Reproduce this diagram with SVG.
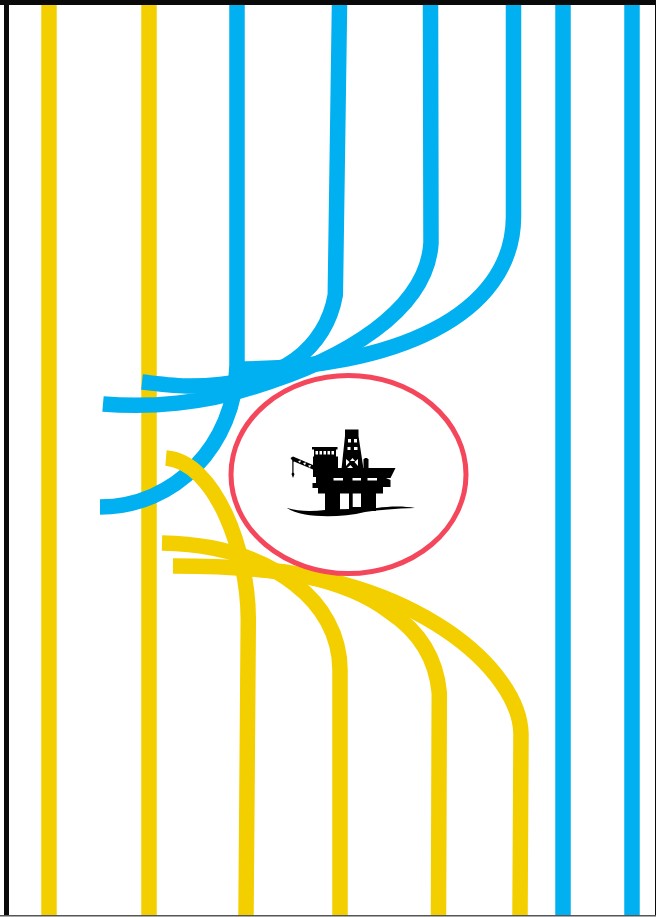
<svg xmlns="http://www.w3.org/2000/svg" width="656" height="917" viewBox="0 0 656 917">
<style>
.b{fill:none;stroke:#00B0F0;stroke-width:15.5}
.y{fill:none;stroke:#F4CF00;stroke-width:15.5}
.k{fill:#0a0a0a}
.i{fill:#000}
.w{fill:#fff}
</style>
<defs><filter id="soft" x="-5%" y="-5%" width="110%" height="110%"><feGaussianBlur stdDeviation="0.45"/></filter></defs>
<rect width="656" height="917" fill="#fff"/>
<g id="connectors">
<path class="y" d="M49,5V915"/>
<path class="y" d="M149,5V915"/>
<path class="b" d="M563,5V915"/>
<path class="b" d="M632,5V915"/>
<path class="b" d="M237,5V365C235,445 175,507 100,507"/>
<path class="b" d="M339.500,5L335.300,295C330,325 315,345 295,360C270,378 230,386 190,386C175,386 160,384 142,382"/>
<path class="b" d="M430.500,5L431,243C427,310 345,360 250,388C205,403 150,408 103,404"/>
<path class="b" d="M513.500,5V217C513,315 395,369 235,369"/>
<path class="y" d="M166,458C215,462 248,550 248.300,619L246,915"/>
<path class="y" d="M340,915V670C340,635 322,605 296,585C265,560 220,544 162,543"/>
<path class="y" d="M438.500,915L439.300,693C436,655 417,630 390,612C345,578 280,566 173,566"/>
<path class="y" d="M520,915L521,734C520,670 415,576 240,568"/>
</g>
<g id="platform-node">
<ellipse cx="348.500" cy="474.500" rx="117.500" ry="99" fill="#fff" stroke="#F4475B" stroke-width="5"/>
<g id="platform" filter="url(#soft)">
<path class="i" d="M345,429.500H358.500V436L363.500,469H341.500L345,436Z"/>
<path class="w" d="M348,439H351V442.500H348ZM354,439H357V442.500H354ZM347.500,447H350.500V450H347.500ZM354,447H357.500V450H354ZM346,459L349.500,462L346,466ZM358,459V466L354.500,462ZM347,468L350.500,465L353,468ZM352.500,458L355,461L350,461Z"/>
<path class="i" d="M312,447H337.500V449.500H336V457H314V449.500H312Z"/>
<path class="w" d="M315.500,451H318V454.500H315.500ZM319.500,451H322V454.500H319.500ZM323.500,451H326V454.500H323.500ZM327.500,451H330V454.500H327.500ZM331.500,451H334V454.500H331.500Z"/>
<path class="i" d="M313,456.500H338V468H395.500L390.500,478H386L390.500,480V487H383V493.500H376V511H325V493.500H318V488H312.500V483H316V477H313Z"/>
<path class="i" d="M363.500,459.500L365,458H367L368.500,459.500V468H363.500Z"/>
<path class="w" d="M333.500,478H343V480.500H333.500ZM352.500,478H361V480.500H352.500ZM367.500,478H377V480.500H367.500ZM340,493.500H349V509.500H340ZM352.700,493.500H361V507H352.700Z"/>
<path class="i" d="M290.500,458L293,456.500L313,465V469.500L294,461.500L293.500,462V472.500L294.500,474L293,478L291.500,474L292.300,472.500V460.500Z"/>
<path class="w" d="M298,461L301,460.500L300,463ZM303,463L306,462.500L305,465.500ZM308,465.500L311,465L310,468Z"/>
<path class="i" d="M287,508C298,511.500 312,511.500 325,510L377,508C390,506 405,506 415,508C395,508.500 380,510 365,512C345,517 320,517 305,514.500C297,513 291,511 287,508Z"/>
</g>
</g>
<g id="frame">
<rect class="k" width="656" height="5"/>
<rect class="k" x="4" width="5" height="916"/>
<rect class="k" x="655" width="1" height="916"/>
<rect x="0" y="915" width="656" height="1.500" fill="#555"/>
</g>
</svg>
